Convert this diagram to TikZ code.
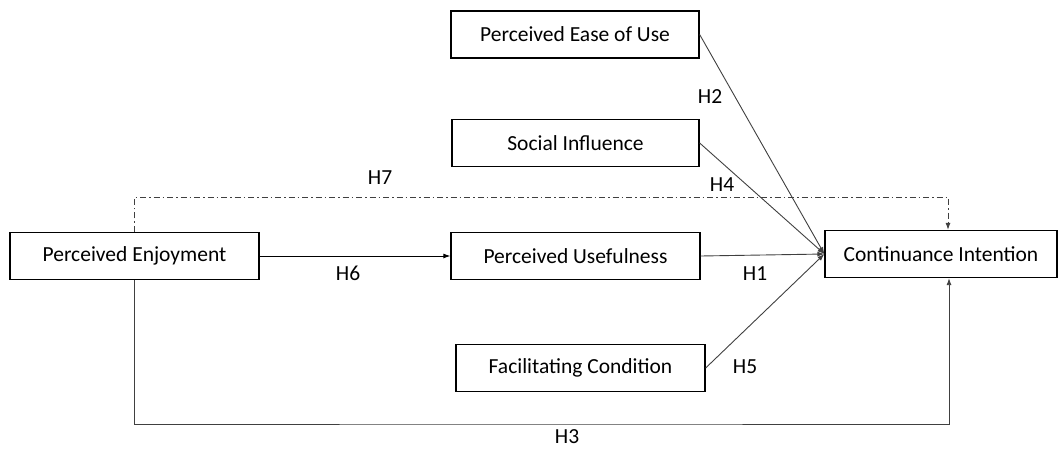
\documentclass[tikz,border=0pt]{standalone}
\usepackage{fontspec}
\setmainfont{Carlito}
\usetikzlibrary{arrows.meta}
\def\linkcolor{black!75}

\begin{document}
\begin{tikzpicture}[x = 1pt, y = -1pt,
	box/.style = {draw = black, line width = 1.3pt, minimum height = 47pt, inner sep = 0pt, font = \fontsize{21.5}{25}\selectfont},
	link/.style = {\linkcolor, line width = 0.9pt, -{Latex[length = 7pt, width = 5pt]}},
	hyp/.style = {font = \fontsize{21.5}{25}\selectfont}]
	\useasboundingbox (0, 0) rectangle (1060, 448);
	\node[box, minimum width = 248pt] (peou) at (575, 34.5) {Perceived Ease of Use};
	\node[box, minimum width = 247pt] (si) at (575.5, 143) {Social Influence};
	\node[box, minimum width = 249pt] (pe) at (134.5, 256) {Perceived Enjoyment};
	\node[box, minimum width = 249pt] (pu) at (575.5, 256) {Perceived Usefulness};
	\node[box, minimum width = 249pt] (fc) at (580.5, 368) {Facilitating Condition};
	\node[box, minimum width = 232pt] (ci) at (941, 254) {Continuance Intention};
	\coordinate (top) at (540, 197);
	\coordinate (bottom) at (540, 424);
	\draw[link] (peou.east) -- (ci.west);
	\draw[link] (si.east) -- (ci.west);
	\draw[link] (pu.east) -- (ci.west);
	\draw[link] (fc.east) -- (ci.west);
	\draw[link, black] (pe.east) -- (pu.west);
	\draw[link, dash pattern = on 6pt off 3pt on 1.5pt off 3pt] (pe.north) |- (top) -| ([xshift = 7pt]ci.north);
	\draw[link] (pe.south) |- (bottom) -| ([xshift = 8pt]ci.south);
	\node[hyp] (h2) at (710, 97) {H2};
	\node[hyp] (h4) at (722, 185) {H4};
	\node[hyp] (h1) at (755, 274) {H1};
	\node[hyp] (h5) at (745, 367) {H5};
	\node[hyp] (h6) at (348, 273) {H6};
	\node[hyp] (h7) at (380, 178) {H7};
	\node[hyp] (h3) at (567, 437) {H3};
\end{tikzpicture}
\end{document}
